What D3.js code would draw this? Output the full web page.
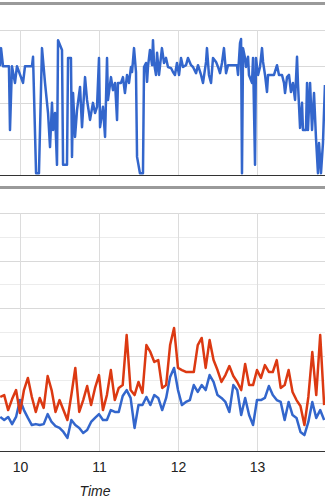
<!DOCTYPE html>
<html>
<head>
<meta charset="utf-8">
<script src="https://cdn.jsdelivr.net/npm/d3@7"></script>
<style>
  body { margin: 0; background: #fff; }
  svg { display: block; }
</style>
</head>
<body>
<div id="chart"></div>
<script>
// Hour ticks on the time axis
const hourTicks = [10, 11, 12, 13]

// Top chart: minutes after 10:00 and value
const topMinutes = [-15.2, -14.4, -12.9, -8.4, -7.6, -6.1, -3.8, -2.3, 2.3, 3.8,
  9.1, 9.9, 12.2, 14.4, 16.7, 19.0, 21.3, 22.8, 24.3, 25.1,
  26.6, 28.1, 28.9, 31.9, 32.7, 35.7, 36.5, 38.7, 39.5, 40.3,
  41.8, 43.3, 45.6, 47.1, 49.4, 50.9, 53.2, 55.4, 57.0, 58.5,
  60.0, 60.8, 63.0, 64.6, 66.1, 66.8, 69.1, 70.6, 72.2, 73.7,
  74.4, 76.7, 78.2, 79.7, 81.3, 82.8, 84.3, 85.1, 86.6, 88.1,
  88.9, 91.1, 93.4, 94.2, 95.7, 96.5, 97.2, 98.7, 100.3, 101.0,
  101.8, 103.3, 104.1, 105.6, 107.8, 109.4, 110.9, 112.4, 114.7, 116.2,
  117.7, 119.2, 120.8, 122.3, 123.8, 126.1, 127.6, 129.9, 131.4, 133.7,
  135.2, 137.5, 139.0, 141.3, 142.0, 143.5, 145.1, 146.6, 148.9, 150.4,
  151.9, 153.4, 154.9, 156.5, 158.0, 164.8, 165.6, 167.1, 167.9, 168.6,
  169.4, 170.9, 171.6, 173.2, 173.9, 176.2, 177.0, 178.5, 179.2, 180.8,
  182.3, 183.8, 184.6, 186.1, 187.6, 188.4, 192.9, 195.2, 196.7, 199.0, 200.5,
  201.3, 202.8, 204.3, 205.8, 207.3, 208.9, 210.4, 211.1, 212.7, 214.2,
  214.9, 217.2, 218.0, 218.7, 220.3, 221.8, 223.3, 224.8, 226.3, 227.1,
  228.6, 230.1, 231.6]
const topValues = [3.0, 3.5, 3.0, 3.0, 1.24, 3.0, 2.54, 3.0, 2.54, 3.0,
  3.0, 3.26, 0.05, 0.05, 3.5, 2.54, 1.71, 0.77, 1.99, 1.24,
  1.71, 0.28, 3.72, 3.45, 0.28, 0.28, 3.23, 3.23, 0.5, 2.26,
  1.05, 1.79, 2.43, 1.32, 2.7, 2.07, 1.52, 1.99, 1.71, 1.88,
  3.23, 1.32, 1.88, 1.05, 3.23, 2.07, 2.7, 2.34, 2.54, 1.52,
  2.54, 2.54, 2.7, 2.26, 2.76, 2.54, 2.98, 2.84, 3.5, 2.84,
  0.5, 0.05, 0.05, 2.98, 3.09, 2.57, 2.98, 3.45, 3.03, 3.72,
  3.09, 2.76, 3.37, 2.76, 3.5, 3.09, 3.23, 2.98, 2.95, 2.84,
  2.76, 3.09, 2.76, 3.23, 2.98, 3.03, 3.23, 3.03, 2.98, 2.81,
  3.03, 2.76, 2.54, 3.12, 3.5, 2.76, 2.54, 3.23, 3.12, 2.98,
  2.81, 3.09, 3.5, 2.81, 3.03, 3.03, 2.76, 3.64, 3.75, 0.05,
  3.5, 3.23, 2.98, 3.26, 2.76, 2.54, 3.23, 0.28, 3.23, 2.76,
  2.98, 3.5, 3.12, 2.76, 2.29, 2.76, 2.76, 3.03, 2.76, 2.76, 2.54,
  2.26, 2.7, 2.76, 2.29, 2.54, 2.07, 3.26, 2.54, 1.3, 1.99,
  1.24, 1.24, 2.54, 1.24, 2.54, 1.24, 2.26, 1.02, 0.05, 0.88,
  0.05, 0.88, 2.48]

// Bottom chart: minutes after 10:00, blue and red series
const bottomMinutes = [-15, -12, -9, -6, -3, 0, 3, 6, 9, 12,
  15, 18, 21, 24, 27, 30, 33, 36, 39, 42,
  45, 48, 51, 54, 57, 60, 63, 66, 69, 72,
  75, 78, 81, 84, 87, 90, 93, 96, 99, 102,
  105, 108, 111, 114, 117, 120, 123, 126, 129, 132,
  135, 138, 141, 144, 147, 150, 153, 156, 159, 162,
  165, 168, 171, 174, 177, 180, 183, 186, 189, 192,
  195, 198, 201, 204, 207, 210, 213, 216, 219, 222,
  225, 228, 231]
const blueValues = [1.43, 1.30, 1.43, 1.13, 1.43, 2.14, 1.72, 1.39, 1.09, 1.13,
  1.09, 1.13, 1.55, 1.22, 1.05, 0.97, 0.80, 0.55, 1.30, 1.09,
  0.97, 0.76, 0.88, 1.22, 1.39, 1.55, 1.30, 1.30, 1.72, 1.64,
  1.64, 2.31, 2.56, 2.23, 0.97, 1.93, 1.93, 2.27, 1.93, 2.35,
  2.23, 1.72, 2.23, 3.11, 3.49, 2.56, 1.93, 2.06, 2.14, 2.77,
  2.48, 2.77, 2.56, 3.19, 2.90, 2.35, 2.23, 2.06, 1.64, 2.77,
  2.56, 1.51, 2.23, 1.51, 1.09, 2.14, 2.14, 2.23, 2.73, 2.35,
  2.14, 2.06, 1.30, 2.06, 1.51, 1.39, 0.80, 0.67, 1.22, 2.06,
  1.39, 1.72, 1.30]
const redValues = [2.27, 2.35, 1.72, 2.18, 2.56, 1.60, 2.56, 3.07, 2.27, 1.64,
  2.23, 1.81, 3.15, 2.56, 1.64, 2.14, 1.72, 1.30, 2.35, 3.49,
  1.64, 2.14, 2.73, 1.93, 2.65, 3.19, 1.72, 2.35, 3.40, 2.14,
  2.65, 2.77, 4.87, 2.56, 2.35, 2.90, 2.44, 4.45, 4.16, 3.74,
  3.82, 2.65, 2.77, 4.45, 5.17, 3.49, 3.40, 3.32, 3.32, 3.32,
  4.45, 4.75, 3.49, 4.66, 3.82, 3.40, 2.90, 3.19, 3.57, 3.15,
  2.90, 2.56, 3.66, 2.77, 2.77, 3.40, 3.07, 3.61, 3.32, 3.32,
  3.82, 2.65, 2.77, 3.40, 2.48, 2.14, 1.89, 1.09, 2.27, 4.16,
  2.35, 4.87, 1.93]

const topGrid = [1, 2, 3, 4]
const bottomMajor = [2, 4, 6, 8, 10]
const bottomMinor = [1, 3, 5, 7, 9]

const width = 325, height = 500

var svg = d3.select('#chart').append('svg')
  .attr('width', width)
  .attr('height', height)

const toHour = (m) => 10 + m / 60

// Scales
const x = d3.scaleLinear().domain([10, 13]).range([20, 257])
const yTop = d3.scaleLinear().domain([0, 4]).range([175, 30])
const yBottom = d3.scaleLinear().domain([0, 10]).range([451, 213])

// Separator bars
svg.append('rect').attr('x', 0).attr('y', 2).attr('width', width).attr('height', 3).attr('fill', '#9a9a9a')
svg.append('rect').attr('x', 0).attr('y', 186).attr('width', width).attr('height', 3).attr('fill', '#9a9a9a')

// Grid helper
function hGrid(scale, values, color) {
  const g = svg.append('g')
    .call(d3.axisLeft(scale).tickValues(values).tickSize(-width).tickFormat(''))
  g.select('.domain').remove()
  g.selectAll('line').attr('stroke', color).attr('shape-rendering', 'crispEdges')
}
function vGrid(yScale) {
  const g = svg.append('g')
    .attr('transform', `translate(0, ${yScale(0)})`)
    .call(d3.axisBottom(x).tickValues(hourTicks).tickSize(-(yScale.range()[0] - yScale.range()[1])).tickFormat(''))
  g.select('.domain').remove()
  g.selectAll('line').attr('stroke', '#dcdcdc').attr('shape-rendering', 'crispEdges')
}

hGrid(yTop, topGrid, '#d9d9d9')
vGrid(yTop)
hGrid(yBottom, bottomMinor, '#ececec')
hGrid(yBottom, bottomMajor, '#d9d9d9')
vGrid(yBottom)

// Baselines
svg.append('line').attr('x1', 0).attr('x2', width)
  .attr('y1', yTop(0)).attr('y2', yTop(0))
  .attr('stroke', '#333').attr('shape-rendering', 'crispEdges')
svg.append('line').attr('x1', 0).attr('x2', width)
  .attr('y1', yBottom(0)).attr('y2', yBottom(0))
  .attr('stroke', '#333').attr('shape-rendering', 'crispEdges')

// Lines
const topData = topMinutes.map((m, i) => ({t: toHour(m), v: topValues[i]}))
const blueData = bottomMinutes.map((m, i) => ({t: toHour(m), v: blueValues[i]}))
const redData = bottomMinutes.map((m, i) => ({t: toHour(m), v: redValues[i]}))

const topLine = d3.line().x(d => x(d.t)).y(d => yTop(d.v))
const bottomLine = d3.line().x(d => x(d.t)).y(d => yBottom(d.v))

svg.append('path').datum(topData)
  .attr('d', topLine)
  .attr('fill', 'none').attr('stroke', '#3366cc').attr('stroke-width', 2.5)
  .attr('stroke-linejoin', 'round')

svg.append('path').datum(blueData)
  .attr('d', bottomLine)
  .attr('fill', 'none').attr('stroke', '#3366cc').attr('stroke-width', 2.5)
  .attr('stroke-linejoin', 'round')

svg.append('path').datum(redData)
  .attr('d', bottomLine)
  .attr('fill', 'none').attr('stroke', '#dc3912').attr('stroke-width', 2.5)
  .attr('stroke-linejoin', 'round')

// Axis labels
const xAxisGroup = svg.append('g')
  .attr('transform', `translate(0, ${yBottom(0)})`)
  .call(d3.axisBottom(x).tickValues(hourTicks).tickSize(0).tickPadding(11).tickFormat(d3.format('d')))
xAxisGroup.select('.domain').remove()
xAxisGroup.selectAll('text')
  .attr('font-family', 'Liberation Sans, Arial, sans-serif')
  .attr('font-size', '14px')
  .attr('fill', '#222')

svg.append('text')
  .attr('x', 95)
  .attr('y', 496)
  .attr('text-anchor', 'middle')
  .attr('font-family', 'Liberation Sans, Arial, sans-serif')
  .attr('font-size', '14px')
  .attr('font-style', 'italic')
  .attr('fill', '#222')
  .text('Time')
</script>
</body>
</html>
